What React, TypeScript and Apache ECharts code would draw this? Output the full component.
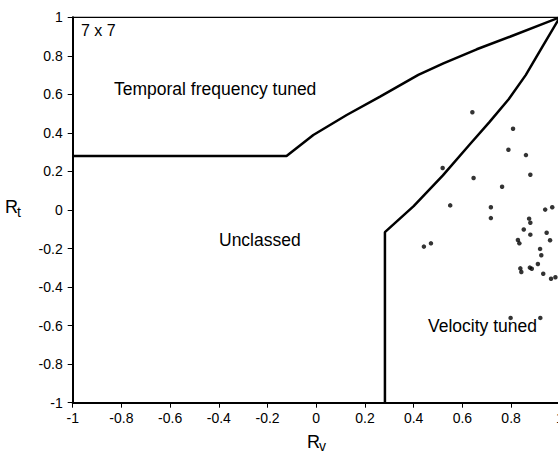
import { useEffect, useRef } from 'react';
import * as echarts from 'echarts';

const xRange = [-1, 1];
const yRange = [-1, 1];
const tickStep = 0.2;

// Boundary: temporal frequency tuned (upper)
const tfBoundary: [number, number][] = [
  [-1, 0.28], [-0.122, 0.28], [-0.012, 0.389], [0.125, 0.493], [0.262, 0.588],
  [0.419, 0.701], [0.522, 0.761], [0.659, 0.834], [0.795, 0.899], [1, 1],
];

// Boundary: velocity tuned (lower)
const vBoundary: [number, number][] = [
  [0.282, -1], [0.282, -0.115], [0.4, 0.02], [0.52, 0.18], [0.63, 0.34],
  [0.71, 0.455], [0.79, 0.575], [0.86, 0.7], [0.93, 0.85], [1, 1],
];

const cellsRv = [
  0.641, 0.808, 0.789, 0.861, 0.519, 0.879, 0.646, 0.763, 0.55, 0.717, 0.94, 0.969,
  0.717, 0.874, 0.879, 0.852, 0.946, 0.879, 0.442, 0.471, 0.828, 0.834, 0.96, 0.919,
  0.924, 0.91, 0.838, 0.842, 0.877, 0.885, 0.932, 0.964, 0.982, 0.798, 0.92,
];
const cellsRt = [
  0.507, 0.422, 0.313, 0.285, 0.218, 0.183, 0.166, 0.121, 0.024, 0.014, 0.002, 0.014,
  -0.042, -0.045, -0.066, -0.101, -0.118, -0.128, -0.19, -0.173, -0.156, -0.173, -0.157, -0.202,
  -0.235, -0.28, -0.303, -0.322, -0.299, -0.305, -0.331, -0.357, -0.349, -0.56, -0.56,
];

const FONT = '"Liberation Sans", Arial, sans-serif';

export default function App() {
  const ref = useRef<HTMLDivElement>(null);
  useEffect(() => {
    if (!ref.current) return;
    const chart = echarts.init(ref.current, undefined, { renderer: 'svg' });
    const scatterData = cellsRv.map((v, i) => [v, cellsRt[i]]);
    const axisCommon = {
      type: 'value' as const,
      interval: tickStep,
      splitLine: { show: false },
      axisLine: { show: true, onZero: false, lineStyle: { color: '#000', width: 2 } },
      axisTick: { show: true, inside: false, length: 5, lineStyle: { color: '#000', width: 1 } },
      axisLabel: { color: '#000', fontSize: 14, fontFamily: FONT },
    };
    chart.setOption({
      animation: false,
      backgroundColor: '#fff',
      grid: {
        left: 72.7, top: 17.3, width: 487.1, height: 385.4,
        outerBoundsMode: 'none', containLabel: false,
        show: true, borderColor: '#000', borderWidth: 1.3, backgroundColor: 'transparent',
      },
      xAxis: { ...axisCommon, min: xRange[0], max: xRange[1], axisLabel: { ...axisCommon.axisLabel, margin: 8 } },
      yAxis: { ...axisCommon, min: yRange[0], max: yRange[1], axisLabel: { ...axisCommon.axisLabel, margin: 10 } },
      series: [
        {
          type: 'line', data: tfBoundary, showSymbol: false, silent: true,
          lineStyle: { color: '#000', width: 2.5 },
        },
        {
          type: 'line', data: vBoundary, showSymbol: false, silent: true,
          lineStyle: { color: '#000', width: 2.5 },
        },
        {
          type: 'scatter', data: scatterData, symbol: 'circle', symbolSize: 4.5,
          itemStyle: { color: '#000' },
        },
      ],
      graphic: [
        { type: 'text', left: 81, top: 22, style: { text: '7 x 7', fontSize: 16, fontFamily: FONT, fill: '#000' } },
        { type: 'text', left: 114, top: 80, style: { text: 'Temporal frequency tuned', fontSize: 17.5, fontFamily: FONT, fill: '#000' } },
        { type: 'text', left: 219, top: 231, style: { text: 'Unclassed', fontSize: 17.5, fontFamily: FONT, fill: '#000' } },
        { type: 'text', left: 428, top: 317, style: { text: 'Velocity tuned', fontSize: 17.5, fontFamily: FONT, fill: '#000' } },
        { type: 'text', left: 5, top: 198, style: { text: 'R', fontSize: 18, fontFamily: FONT, fill: '#000' } },
        { type: 'text', left: 17, top: 205, style: { text: 't', fontSize: 14, fontFamily: FONT, fill: '#000' } },
        { type: 'text', left: 307, top: 433, style: { text: 'R', fontSize: 18, fontFamily: FONT, fill: '#000' } },
        { type: 'text', left: 319, top: 439, style: { text: 'v', fontSize: 14, fontFamily: FONT, fill: '#000' } },
      ],
    });
    return () => chart.dispose();
  }, []);
  return <div ref={ref} style={{ position: 'fixed', left: 0, top: 0, width: 558, height: 454, background: '#fff' }} />;
}
